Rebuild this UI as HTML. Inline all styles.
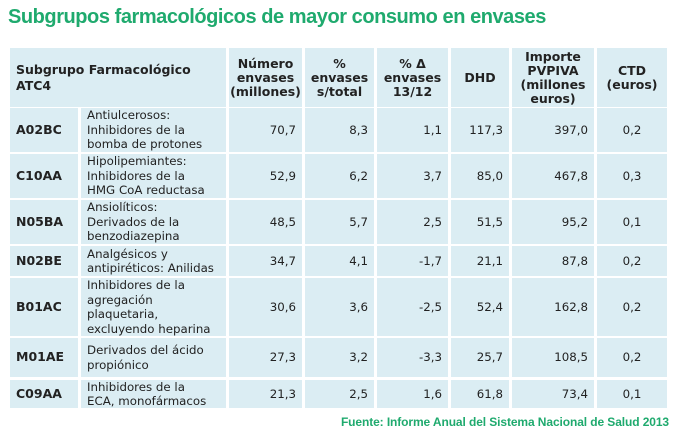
<!DOCTYPE html>
<html><head><meta charset="utf-8"><style>
body{margin:0;width:680px;height:435px;background:#fff;position:relative;overflow:hidden;font-family:"DejaVu Sans",Verdana,sans-serif;color:#222}
.t{position:absolute;left:8px;top:6px;font:bold 20px "Liberation Sans",sans-serif;color:#1faa6e;letter-spacing:-0.45px;white-space:nowrap}
.c{position:absolute;background:#dbedf3;font-size:11.8px;line-height:14.5px;display:flex;align-items:center;box-sizing:border-box;padding:0 6px;white-space:nowrap}
.h{font-weight:bold;justify-content:center;text-align:center;font-size:12.5px;line-height:14px}
.r{justify-content:flex-end}
.m{justify-content:center}
.b{font-weight:bold;font-size:12.5px}
.f{position:absolute;right:11px;top:415px;font:bold 12px "Liberation Sans",sans-serif;color:#1faa6e;white-space:nowrap;letter-spacing:-0.1px}
</style></head><body>
<div class="t">Subgrupos farmacológicos de mayor consumo en envases</div>
<div id="g"></div>
<div class="f">Fuente: Informe Anual del Sistema Nacional de Salud 2013</div>
<script>
var X=[10,81,229,305,377,451,512,597,670];
var R=[[48,107],[108,152],[154,198],[200,244],[246,276],[278,336],[338,377],[380,408]];
var g=document.getElementById('g'),h='';
function cell(x1,x2,y1,y2,cls,txt){h+='<div class="c '+cls+'" style="left:'+x1+'px;top:'+y1+'px;width:'+(x2-x1-3)+'px;height:'+(y2-y1)+'px">'+txt+'</div>';}
cell(X[0],X[2],R[0][0],R[0][1],'b','<span style="line-height:16px">Subgrupo Farmacológico<br>ATC4</span>');
var hd=['Número<br>envases<br>(millones)','%<br>envases<br>s/total','% Δ<br>envases<br>13/12','DHD','Importe<br>PVPIVA<br>(millones<br>euros)','CTD<br>(euros)'];
for(var i=0;i<6;i++)cell(X[i+2],X[i+3],R[0][0],R[0][1],'h',hd[i]);
var d=[
['A02BC','Antiulcerosos:<br>Inhibidores de la<br>bomba de protones','70,7','8,3','1,1','117,3','397,0','0,2'],
['C10AA','Hipolipemiantes:<br>Inhibidores de la<br>HMG CoA reductasa','52,9','6,2','3,7','85,0','467,8','0,3'],
['N05BA','Ansiolíticos:<br>Derivados de la<br>benzodiazepina','48,5','5,7','2,5','51,5','95,2','0,1'],
['N02BE','Analgésicos y<br>antipiréticos: Anilidas','34,7','4,1','-1,7','21,1','87,8','0,2'],
['B01AC','Inhibidores de la<br>agregación<br>plaquetaria,<br>excluyendo heparina','30,6','3,6','-2,5','52,4','162,8','0,2'],
['M01AE','Derivados del ácido<br>propiónico','27,3','3,2','-3,3','25,7','108,5','0,2'],
['C09AA','Inhibidores de la<br>ECA, monofármacos','21,3','2,5','1,6','61,8','73,4','0,1']];
for(var r=0;r<7;r++){var y1=R[r+1][0],y2=R[r+1][1];
cell(X[0],X[1],y1,y2,'b',d[r][0]);cell(X[1],X[2],y1,y2,'',d[r][1]);
for(var k=2;k<8;k++)cell(X[k],X[k+1],y1,y2,k==7?'m':'r',d[r][k]);}
g.innerHTML=h;
</script>
</body></html>
